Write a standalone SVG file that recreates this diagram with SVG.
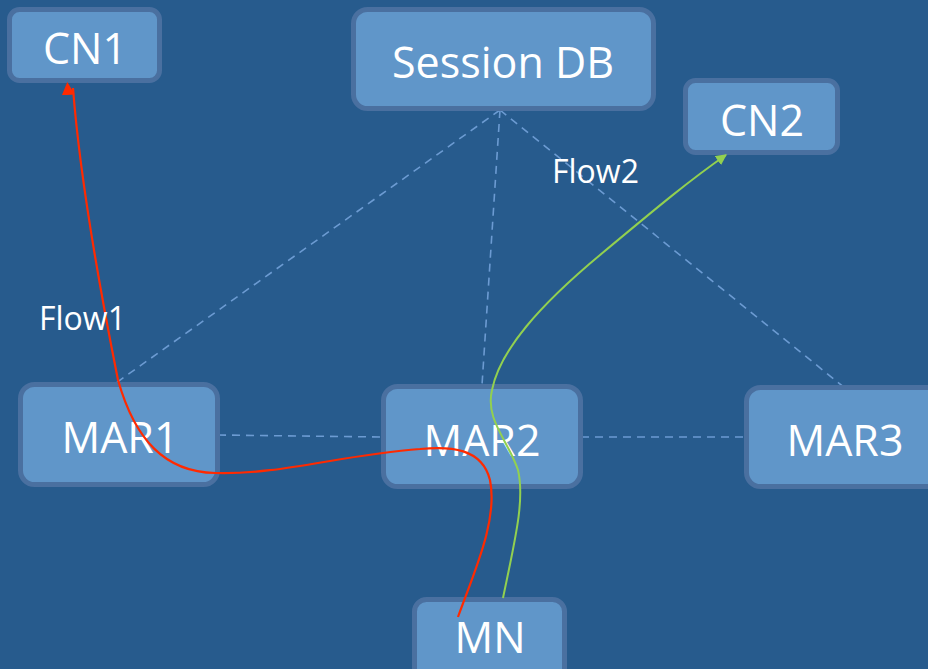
<svg xmlns="http://www.w3.org/2000/svg" width="928" height="669" viewBox="0 0 928 669">
<style>
.node{fill:#6096C9;stroke:#4A70A0;stroke-width:5}
.lbl{font-family:"Open Sans","Liberation Sans",sans-serif;font-size:43px;fill:#fff;text-anchor:middle}
.flow{font-family:"Open Sans","Liberation Sans",sans-serif;font-size:32px;fill:#fff}
.dash{stroke:#6C9BD2;stroke-width:1.6;stroke-dasharray:8 6;fill:none}
</style>
<defs>
<marker id="ar" viewBox="0 0 10 10" refX="5" refY="9" markerWidth="13" markerHeight="13" markerUnits="userSpaceOnUse" orient="auto">
<path d="M0,10 L5,0 L10,10 Z" fill="#FF2A00" transform="rotate(90 5 5)"/>
</marker>
<marker id="ag" viewBox="0 0 10 10" refX="9" refY="5" markerWidth="11" markerHeight="11" markerUnits="userSpaceOnUse" orient="auto">
<path d="M0,0 L10,5 L0,10 Z" fill="#92D050"/>
</marker>
</defs>
<rect width="928" height="669" fill="#275B8D"/>
<g id="connectors">
<path class="dash" d="M500,110 L116,383"/>
<path class="dash" d="M500,110 L482,385"/>
<path class="dash" d="M500,110 L845,388"/>
<path class="dash" d="M218,435 L383,437"/>
<path class="dash" d="M581,437 L745,437"/>
</g>
<g id="CN1"><rect class="node" x="9.5" y="9.5" width="150" height="71" rx="10"/><text class="lbl" x="85" y="64">CN1</text></g>
<g id="SessionDB"><rect class="node" x="353.5" y="9.5" width="300" height="99" rx="14"/><text class="lbl" x="503" y="78">Session DB</text></g>
<g id="CN2"><rect class="node" x="685.5" y="80.5" width="152" height="72" rx="10"/><text class="lbl" x="762" y="136">CN2</text></g>
<g id="MAR1"><rect class="node" x="20.5" y="384.5" width="197" height="100" rx="14"/><text class="lbl" x="120" y="453">MAR1</text></g>
<g id="MAR2"><rect class="node" x="383.5" y="386.5" width="197" height="100" rx="14"/><text class="lbl" x="482" y="456">MAR2</text></g>
<g id="MAR3"><rect class="node" x="746.5" y="387.5" width="200" height="99" rx="14"/><text class="lbl" x="845" y="456">MAR3</text></g>
<g id="MN"><rect class="node" x="414.5" y="599.5" width="150" height="85" rx="12"/><text class="lbl" x="490" y="653">MN</text></g>
<g id="flows">
<path d="M458,617 C475,570 498,520 490,480 C482,448 450,446 420,449 C340,455 280,475 215,473 C165,472 135,440 118,380 C102,300 80,180 73,88" fill="none" stroke="#FF2A00" stroke-width="2.2" marker-end="url(#ar)"/>
<path d="M503,598 C515,540 525,500 518,470 C508,440 485,420 492,390 C500,350 540,305 600,255 S690,180 726,155" fill="none" stroke="#92D050" stroke-width="2" marker-end="url(#ag)"/>
<text class="flow" x="39" y="330">Flow1</text>
<text class="flow" x="552" y="183">Flow2</text>
</g>
</svg>
